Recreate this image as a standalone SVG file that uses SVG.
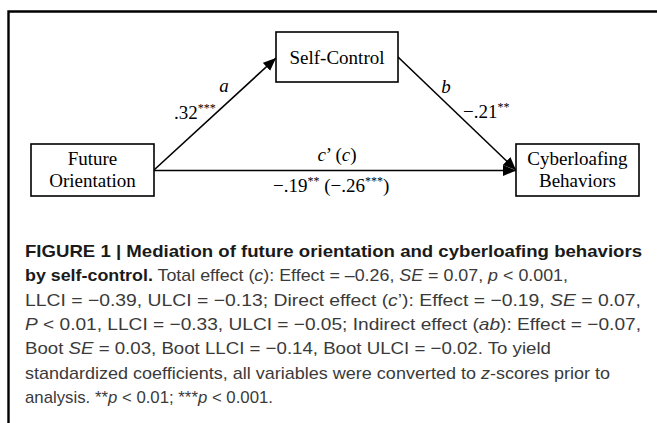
<svg xmlns="http://www.w3.org/2000/svg" width="657" height="423" viewBox="0 0 657 423">
<style>
.box{fill:#fff;stroke:#000;stroke-width:1.6}
.t{font-family:"Liberation Serif","Times New Roman",serif;font-size:19px;fill:#000}
.i{font-style:italic}
.sup{font-size:12px}
.edge{stroke:#000;stroke-width:1.6;fill:none}
.cap{font-family:"Liberation Sans",Arial,Helvetica,sans-serif;font-size:17px;fill:#3a3a3a}
.b{font-weight:bold;fill:#1a1a1a}
</style>
<defs>
<marker id="ah" markerUnits="userSpaceOnUse" markerWidth="14" markerHeight="12" refX="13" refY="5.5" orient="auto">
<path d="M0,0 L13,5.5 L0,11 z" fill="#000"/>
</marker>
</defs>
<rect width="657" height="423" fill="#fff"/>
<path d="M8.5,423 V11.5 H657" fill="none" stroke="#000" stroke-width="2.4"/>

<g id="connectors">
<line class="edge" x1="154" y1="170" x2="276" y2="58" marker-end="url(#ah)"/>
<line class="edge" x1="398" y1="57" x2="516" y2="170" marker-end="url(#ah)"/>
<line class="edge" x1="154" y1="170.5" x2="516" y2="170.5" stroke-width="2" marker-end="url(#ah)"/>
<text class="t i" x="224" y="92" text-anchor="middle">a</text>
<text class="t" x="174" y="119">.32<tspan class="sup" dy="-7">***</tspan></text>
<text class="t i" x="446" y="93" text-anchor="middle">b</text>
<text class="t" x="463" y="118">−.21<tspan class="sup" dy="-7">**</tspan></text>
<text class="t" x="337" y="161" text-anchor="middle"><tspan class="i">c</tspan>’ (<tspan class="i">c</tspan>)</text>
<text class="t" x="273" y="192">−.19<tspan class="sup" dy="-7">**</tspan><tspan dy="7"> (−.26</tspan><tspan class="sup" dy="-7">***</tspan><tspan dy="7">)</tspan></text>
</g>

<g id="future-orientation">
<rect class="box" x="31" y="144" width="123" height="52"/>
<text class="t" x="92.5" y="165" text-anchor="middle">Future</text>
<text class="t" x="92.5" y="187" text-anchor="middle">Orientation</text>
</g>
<g id="self-control">
<rect class="box" x="276" y="32" width="122" height="50"/>
<text class="t" x="337" y="64" text-anchor="middle">Self-Control</text>
</g>
<g id="cyberloafing-behaviors">
<rect class="box" x="516" y="144" width="123" height="52"/>
<text class="t" x="577.5" y="165" text-anchor="middle">Cyberloafing</text>
<text class="t" x="577.5" y="187" text-anchor="middle">Behaviors</text>
</g>

<g id="caption">
<text class="cap b" x="25" y="257" textLength="617" lengthAdjust="spacingAndGlyphs">FIGURE 1 | Mediation of future orientation and cyberloafing behaviors</text>
<text class="cap" x="25" y="281.3" textLength="543" lengthAdjust="spacingAndGlyphs"><tspan class="b">by self-control.</tspan> Total effect (<tspan class="i">c</tspan>): Effect = –0.26, <tspan class="i">SE</tspan> = 0.07, <tspan class="i">p</tspan> &lt; 0.001,</text>
<text class="cap" x="25" y="305.7" textLength="616" lengthAdjust="spacingAndGlyphs">LLCI = −0.39, ULCI = −0.13; Direct effect (<tspan class="i">c</tspan>’): Effect = −0.19, <tspan class="i">SE</tspan> = 0.07,</text>
<text class="cap" x="25" y="330" textLength="616" lengthAdjust="spacingAndGlyphs"><tspan class="i">P</tspan> &lt; 0.01, LLCI = −0.33, ULCI = −0.05; Indirect effect (<tspan class="i">ab</tspan>): Effect = −0.07,</text>
<text class="cap" x="25" y="354.3" textLength="526" lengthAdjust="spacingAndGlyphs">Boot <tspan class="i">SE</tspan> = 0.03, Boot LLCI = −0.14, Boot ULCI = −0.02. To yield</text>
<text class="cap" x="25" y="378.7" textLength="585" lengthAdjust="spacingAndGlyphs">standardized coefficients, all variables were converted to <tspan class="i">z</tspan>-scores prior to</text>
<text class="cap" x="25" y="403" textLength="248" lengthAdjust="spacingAndGlyphs">analysis. **<tspan class="i">p</tspan> &lt; 0.01; ***<tspan class="i">p</tspan> &lt; 0.001.</text>
</g>
</svg>
